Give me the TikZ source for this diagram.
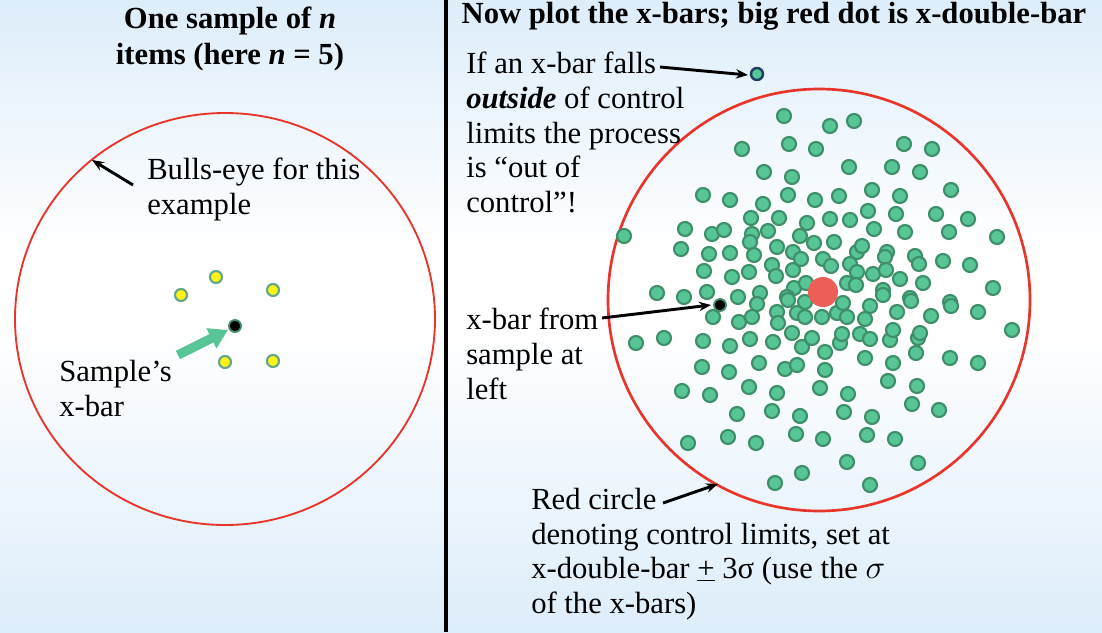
\documentclass[tikz,border=0pt]{standalone}
\usepackage{fontspec}
\setmainfont{Liberation Serif}
\usetikzlibrary{arrows.meta}
\begin{document}
\begin{tikzpicture}[x=0.75pt,y=-0.75pt,
  txt/.style={anchor=north west,inner sep=0pt,align=left,font=\fontsize{23}{26}\selectfont},
  hdr/.style={inner sep=0pt,align=center,font=\bfseries\fontsize{23}{27}\selectfont},
  arr/.style={-{Stealth[length=9pt,width=7pt]},line width=2.2pt,black},
  gdot/.style={fill=gfill,draw=gline,line width=1.6pt},
  ydot/.style={fill=yellow!90!white,draw=gline!80,line width=1.6pt}]
\definecolor{gfill}{HTML}{57C596}
\definecolor{gline}{HTML}{3E8E6A}
\definecolor{bgb}{HTML}{DDEDFA}
\definecolor{rline}{HTML}{E8352B}
\useasboundingbox (0,0) rectangle (1102,632);
\shade[top color=bgb,bottom color=white] (0,0) rectangle (1102,250);
\fill[white] (0,250) rectangle (1102,330);
\shade[top color=white,bottom color=bgb] (0,330) rectangle (1102,632);
\draw[line width=2.6pt] (446,0) -- (446,632);
% left
\node[hdr] (lh) at (230,39) {One sample of \textit{n}\\items (here \textit{n} = 5)};
\draw[rline,line width=1.4pt] (225,319) ellipse [x radius=210, y radius=206];
\foreach \p in {(181,295),(216,277),(273,290),(225,362),(273,361)} \draw[ydot] \p circle (6);
\draw[-{Triangle[length=14pt,width=16pt]},line width=7pt,gfill] (178,355) -- (228,330);
\draw[fill=black,draw=gline,line width=1.4pt] (235,326) circle (6);
\coordinate (bl) at (92,160);
\node[txt] (bull) at (147,158) {Bulls-eye for this\\example};
\draw[arr] (133,185) -- (bl);
\node[txt] (samp) at (59,360) {Sample’s\\x-bar};
% right
\node[hdr] (rh) at (774,16) {Now plot the x-bars; big red dot is x-double-bar};
\draw[rline,line width=2pt] (819,300) circle (211);
\foreach \p in {(784,116),(830,126),(854,121),(742,149),(789,144),(816,149),(904,144),(932,149),(764,172),(792,177),(849,167),(892,167),(920,172),(703,195),(730,200),(788,195),(815,200),(839,196),(872,190),(900,196),(951,190),(763,204),(751,218),(779,218),(807,223),(830,219),(850,220),(868,211),(896,214),(936,214),(968,219),(624,236),(685,229),(712,234),(724,230),(752,234),(750,242),(768,231),(800,236),(814,243),(834,242),(874,229),(905,232),(949,232),(997,237),(681,249),(709,254),(730,253),(754,255),(777,247),(793,252),(857,252),(862,246),(887,252),(885,257),(915,256),(919,264),(943,261),(970,265),(704,271),(732,277),(749,272),(772,265),(776,276),(793,270),(801,259),(823,259),(831,266),(850,264),(857,272),(873,274),(886,270),(900,279),(923,283),(993,288),(657,293),(684,297),(707,292),(738,297),(760,293),(794,288),(806,283),(847,283),(856,285),(883,290),(787,297),(910,298),(950,302),
(757,304),(713,317),(739,322),(752,317),(777,312),(778,323),(788,300),(797,313),(805,302),(805,317),(822,317),(837,313),(843,303),(847,317),(870,306),(883,295),(865,319),(897,312),(911,301),(931,316),(951,306),(978,312),(1012,330),(636,343),(664,338),(703,341),(730,346),(750,339),(773,342),(792,333),(802,347),(812,338),(825,352),(840,343),(842,334),(860,334),(870,339),(890,340),(893,330),(918,338),(920,333),(916,353),(950,358),(978,363),(702,367),(729,372),(759,363),(785,369),(797,365),(825,370),(865,358),(893,363),(682,391),(710,395),(749,387),(777,393),(820,388),(848,394),(888,381),(917,386),(912,404),(939,410),(737,414),(772,411),(800,416),(844,412),(872,417),(688,443),(728,437),(756,443),(796,434),(823,439),(867,435),(895,439),(847,462),(918,463),(802,473),(775,483),(870,485)}
  \draw[gdot] \p circle (7);
\fill[fill={rgb,255:red,236;green,94;blue,86}] (823,292) circle (15);
\draw[fill=gfill,draw={rgb,255:red,30;green,60;blue,100},line width=1.8pt] (757,74) circle (6);
\draw[fill=black,draw=gline,line width=1.4pt] (720,305) circle (6);
\coordinate (oc) at (748,75);
\coordinate (xb) at (711,305);
\coordinate (rc) at (718,484);
\node[txt] (ifan) at (466,52) {If an x-bar falls\\\textbf{\textit{outside}} of control\\limits the process\\is “out of\\control”!};
\draw[arr] (660,67) -- (oc);
\node[txt] (xbar) at (466,308) {x-bar from\\sample at\\left};
\draw[arr] (602,318) -- (xb);
\node[txt] (red) at (531,488) {Red circle\\denoting control limits, set at\\x-double-bar \underline{+} 3σ (use the $\sigma$\\of the x-bars)};
\draw[arr] (663,503) -- (rc);
\end{tikzpicture}
\end{document}
